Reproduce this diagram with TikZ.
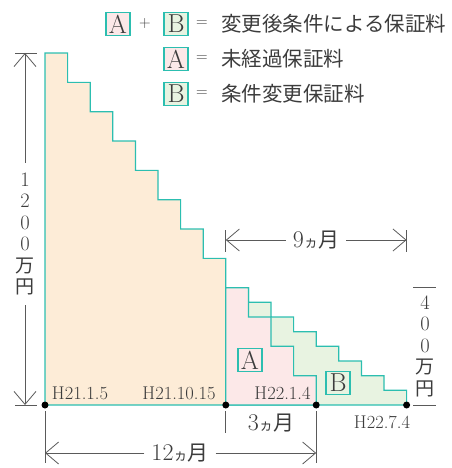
\documentclass[tikz,border=0pt]{standalone}
\usepackage{fontspec}
\newfontfamily\jp{Noto Sans CJK JP}
\usetikzlibrary{arrows.meta}
\definecolor{stepline}{RGB}{44,190,176}
\definecolor{orangefill}{RGB}{253,236,215}
\definecolor{pinkfill}{RGB}{252,232,232}
\definecolor{greenfill}{RGB}{232,243,225}
\definecolor{txtgray}{RGB}{60,60,60}
\definecolor{dimgray}{RGB}{90,90,90}
\newcommand\ka{{\jp\fontsize{14}{14}\selectfont ヵ}}

\begin{document}
\begin{tikzpicture}[x=1pt,y=-1pt]
      \tikzstyle{every node}=[text=txtgray]
      \tikzstyle{date}=[font=\fontsize{18.5}{18.5}\selectfont, inner sep=0pt]
      \tikzstyle{month}=[font=\fontsize{24}{24}\selectfont, inner xsep=7pt, inner ysep=0pt]
      \tikzstyle{vtext}=[font=\fontsize{20.5}{21.5}\selectfont, align=center, inner sep=0pt]
      \tikzstyle{legtext}=[font=\jp\fontsize{20.5}{20.5}\selectfont, inner sep=0pt, anchor=west]
      \tikzstyle{sym}=[font=\fontsize{16}{16}\selectfont, inner sep=0pt]
      \tikzstyle{dim}=[draw=dimgray, line width=0.8pt]
      \tikzstyle{dimarrow}=[dim, -{Straight Barb[length=13pt,width=22pt]}]
      \tikzstyle{steps}=[draw=stepline, line width=1.2pt, line join=miter]
      \tikzstyle{tag}=[draw=stepline, line width=1.2pt, minimum width=24pt, minimum height=23pt, inner sep=0pt, font=\fontsize{26}{26}\selectfont]
      \tikzstyle{dot}=[circle, fill=black, inner sep=0pt, minimum size=7pt]
      \useasboundingbox (0,0) rectangle (451,468);
      %% Legend
      \node[tag, fill=pinkfill] (legA1) at (118,24) {A};
      \node[sym] (plus) at (145,24) {+};
      \node[tag, fill=greenfill] (legB1) at (176,24) {B};
      \node[sym] (eq1) at (202,24) {=};
      \node[legtext] (leg1) at (221,24) {変更後条件による保証料};
      \node[tag, fill=pinkfill] (legA2) at (176,59) {A};
      \node[sym] (eq2) at (202,59) {=};
      \node[legtext] (leg2) at (221,59) {未経過保証料};
      \node[tag, fill=greenfill] (legB2) at (176,94) {B};
      \node[sym] (eq3) at (202,94) {=};
      \node[legtext] (leg3) at (221,94) {条件変更保証料};
      %% Old schedule (12 steps, first 8 paid)
      \filldraw[steps, fill=orangefill] (45,405)
        \foreach \k in {0,...,7} { -- ({45+22.6*\k},{405-29.33*(12-\k)}) -- ({45+22.6*(\k+1)},{405-29.33*(12-\k)}) }
        -- (225.8,405) -- cycle;
      %% New schedule -> B
      \filldraw[steps, fill=greenfill] (225.8,405) -- (225.8,287.7) -- (248.4,287.7)
        \foreach \k in {1,...,7} { -- ({225.8+22.6*\k},{405-14.667*(8-\k)}) -- ({225.8+22.6*(\k+1)},{405-14.667*(8-\k)}) }
        -- (406.6,405) -- cycle;
      %% Unexpired part -> A
      \filldraw[steps, fill=pinkfill] (225.8,405)
        \foreach \k in {0,...,3} { -- ({225.8+22.6*\k},{405-29.33*(4-\k)}) -- ({225.8+22.6*(\k+1)},{405-29.33*(4-\k)}) }
        -- (316.2,405) -- cycle;
      \node[tag, fill=pinkfill] (tagA) at (250,360) {A};
      \node[tag, fill=greenfill] (tagB) at (338,383) {B};
      %% Dates
      \node[dot] (d0) at (45,405) {};
      \node[dot] (d1) at (225.8,405) {};
      \node[dot] (d2) at (316.2,405) {};
      \node[dot] (d3) at (406.6,405) {};
      \node[date] (t0) at (80,393) {H21.1.5};
      \node[date] (t1) at (179,393) {H21.10.15};
      \node[date] (t2) at (282.5,393) {H22.1.4};
      \node[date] (t3) at (382,422) {H22.7.4};
      %% 1200 (left)
      \draw[dim] (15,53) -- (37,53);
      \draw[dim] (15,405) -- (37,405);
      \coordinate (vt) at (25,53);
      \coordinate (vb) at (25,405);
      \node[vtext, inner ysep=10pt] (v1200) at (25,234) {1\\2\\0\\0\\{\jp\fontsize{19}{19}\selectfont 万}\\{\jp\fontsize{19}{19}\selectfont 円}};
      \draw[dimarrow] (v1200.north) -- (vt);
      \draw[dimarrow] (v1200.south) -- (vb);
      %% 400 (right)
      \draw[dim] (413,287.7) -- (436,287.7);
      \draw[dim] (413,405) -- (436,405);
      \node[vtext] (v400) at (425,346) {4\\0\\0\\{\jp\fontsize{19}{19}\selectfont 万}\\{\jp\fontsize{19}{19}\selectfont 円}};
      %% 9 months
      \draw[dim] (225.8,230) -- (225.8,252);
      \draw[dim] (406.6,230) -- (406.6,252);
      \coordinate (m9l) at (225.8,240);
      \coordinate (m9r) at (406.6,240);
      \node[month] (m9) at (316,240) {9\ka{\jp\fontsize{21}{21}\selectfont 月}};
      \draw[dimarrow] (m9) -- (m9l);
      \draw[dimarrow] (m9) -- (m9r);
      %% 3 and 12 months
      \draw[dim] (45,411) -- (45,463);
      \draw[dim] (225.8,411) -- (225.8,433);
      \draw[dim] (316.2,411) -- (316.2,463);
      \node[month] (m3) at (271,423) {3\ka{\jp\fontsize{21}{21}\selectfont 月}};
      \coordinate (m12l) at (45,453);
      \coordinate (m12r) at (316.2,453);
      \node[month] (m12) at (180,453) {12\ka{\jp\fontsize{21}{21}\selectfont 月}};
      \draw[dimarrow] (m12) -- (m12l);
      \draw[dimarrow] (m12) -- (m12r);
\end{tikzpicture}
\end{document}
